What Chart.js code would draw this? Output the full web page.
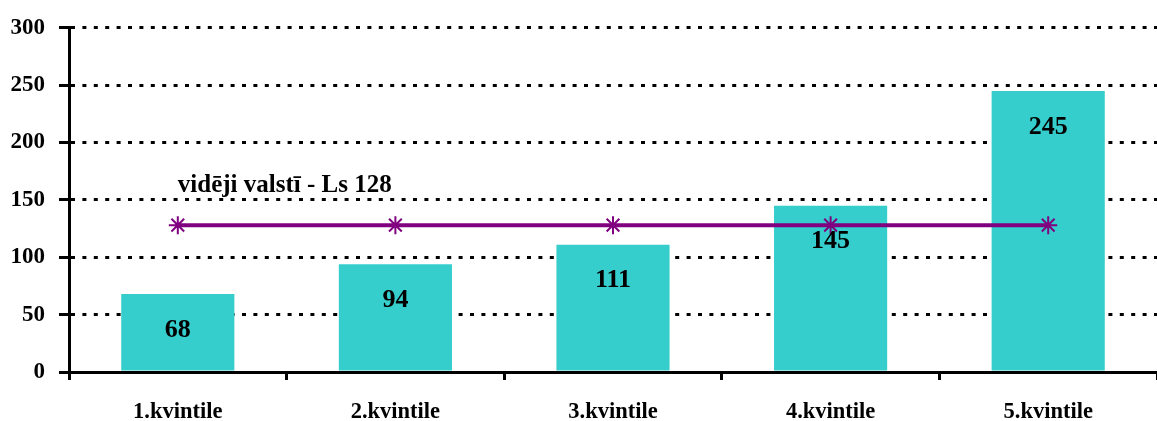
<!DOCTYPE html>
<html>
<head>
<meta charset="utf-8">
<script src="https://cdn.jsdelivr.net/npm/chart.js@4/dist/chart.umd.min.js"></script>
<style>
  html, body { margin: 0; padding: 0; background: #fff; overflow: hidden; }
  #wrap { width: 1168px; height: 421px; }
</style>
</head>
<body>
<div id="wrap"><canvas id="c" width="1168" height="421"></canvas></div>
<script>
// Income by quintile group, with the national average as a reference line
const categories = ['1.kvintile', '2.kvintile', '3.kvintile', '4.kvintile', '5.kvintile'];
const quintileValues = [68, 94, 111, 145, 245];
const averageValue = 128;
const averageSeries = [128, 128, 128, 128, 128];
const averageLabel = 'vidēji valstī - Ls ' + averageValue;
const yTicks = [0, 50, 100, 150, 200, 250, 300];

const SERIF = '"Liberation Serif", "Times New Roman", serif';

// Writes each bar's value inside the bar, and the caption above the average line
const labelPlugin = {
  id: 'barLabels',
  afterDatasetsDraw(chart) {
    const ctx = chart.ctx;
    const meta = chart.getDatasetMeta(0);
    ctx.save();
    ctx.fillStyle = '#000';
    ctx.font = 'bold 26px ' + SERIF;
    ctx.textAlign = 'center';
    ctx.textBaseline = 'middle';
    meta.data.forEach((bar, i) => {
      ctx.fillText(String(quintileValues[i]), bar.x, bar.y + 36);
    });
    const lineMeta = chart.getDatasetMeta(1);
    const first = lineMeta.data[0];
    ctx.textAlign = 'left';
    ctx.textBaseline = 'alphabetic';
    ctx.font = 'bold 25px ' + SERIF;
    ctx.fillText(averageLabel, first.x, first.y - 33);
    ctx.restore();
  }
};

new Chart(document.getElementById('c'), {
  data: {
    labels: categories,
    datasets: [
      {
        type: 'bar',
        data: quintileValues,
        backgroundColor: '#35CECC',
        borderWidth: 0,
        barPercentage: 0.52,
        categoryPercentage: 1.0,
        order: 2
      },
      {
        type: 'line',
        data: averageSeries,
        borderColor: '#800080',
        borderWidth: 4,
        pointStyle: 'star',
        pointRadius: 9,
        pointBorderWidth: 2,
        pointBorderColor: '#800080',
        pointBackgroundColor: '#800080',
        fill: false,
        order: 1
      }
    ]
  },
  options: {
    responsive: false,
    animation: false,
    events: [],
    layout: { padding: { top: 18, left: 0, right: 0, bottom: 0 } },
    plugins: { legend: { display: false }, tooltip: { enabled: false } },
    scales: {
      x: {
        offset: true,
        afterFit(scale) { scale.height = 49; },
        grid: {
          offset: true,
          drawOnChartArea: false,
          drawTicks: true,
          tickLength: 8,
          tickWidth: 3,
          tickColor: '#000'
        },
        border: { display: true, color: '#000', width: 3 },
        ticks: {
          color: '#000',
          padding: 19,
          font: { family: SERIF, size: 22.5, weight: 'bold' }
        }
      },
      y: {
        min: 0,
        max: 300,
        afterFit(scale) { scale.width = 69; },
        afterBuildTicks(scale) { scale.ticks = yTicks.map(v => ({ value: v })); },
        grid: {
          color: '#000',
          lineWidth: 3,
          drawTicks: true,
          tickLength: 10,
          tickWidth: 3,
          tickColor: '#000',
          tickBorderDash: []
        },
        border: { display: true, color: '#000', width: 3, dash: [4, 7.4] },
        ticks: {
          color: '#000',
          padding: 14,
          font: { family: SERIF, size: 23, weight: 'bold' }
        }
      }
    }
  },
  plugins: [labelPlugin]
});
</script>
</body>
</html>
